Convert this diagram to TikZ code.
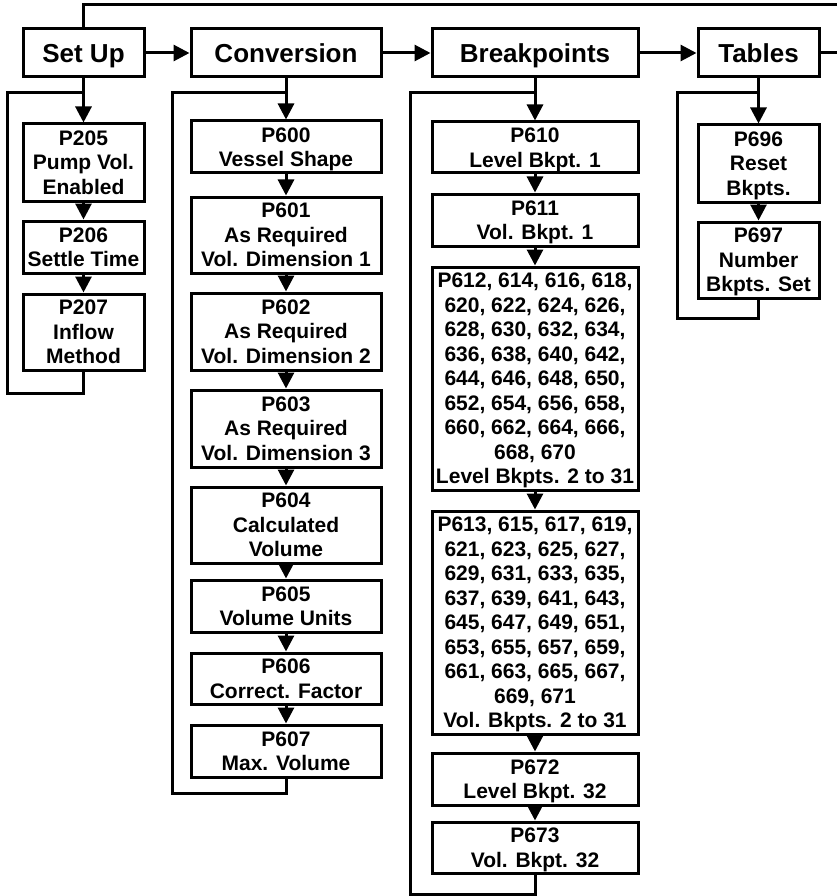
\documentclass[tikz,border=0pt]{standalone}
\usepackage{fontspec}
\setmainfont{Liberation Sans}
\usetikzlibrary{arrows.meta}
\begin{document}
\begin{tikzpicture}[x=1pt,y=-1pt,
  conn/.style={line width=3pt},
  arr/.style={conn, -{Triangle[length=16pt,width=16pt]}},
  hbox/.style={draw, line width=3pt, inner sep=0pt, align=center, minimum height=48pt,
    text height=19pt, text depth=0pt,
    font=\fontsize{26}{30}\selectfont\bfseries},
  pbox/.style={draw, line width=3pt, inner sep=0pt, align=center, text depth=0pt,
    font=\fontsize{21}{24.5}\selectfont\bfseries},
  colA/.style={pbox, minimum width=121pt},
  colB/.style={pbox, minimum width=190pt},
  colC/.style={pbox, minimum width=206pt},
  colD/.style={pbox, minimum width=121pt}]
\useasboundingbox (0,0) rectangle (837,896);

% headers
\node[hbox, minimum width=121pt] (setup) at (83.5,53) {Set Up};
\node[hbox, minimum width=190pt] (conv) at (286,53) {Conversion};
\node[hbox, minimum width=206pt] (bkpt) at (535,53) {Breakpoints};
\node[hbox, minimum width=121pt] (tables) at (758.5,53) {Tables};

\coordinate (topR) at (837,5);
\coordinate (rightE) at (837,53);
\draw[conn] (setup.north) |- (topR);
\draw[arr] (setup) -- (conv);
\draw[arr] (conv) -- (bkpt);
\draw[arr] (bkpt) -- (tables);
\draw[conn] (tables.east) -- (rightE);

% column 1
\node[colA, minimum height=77pt] (p205) at (83.5,162.5) {P205\\Pump Vol.\\Enabled};
\node[colA, minimum height=52pt] (p206) at (83.5,247) {P206\\Settle Time};
\node[colA, minimum height=76pt] (p207) at (83.5,332) {P207\\Inflow\\Method};
\draw[arr] (setup) -- (p205);
\draw[arr] (p205) -- (p206);
\draw[arr] (p206) -- (p207);
\coordinate (a1) at (7,393);
\coordinate (a2) at (83.5,93);
\draw[conn] (p207.south) |- (a1) |- (a2);

% column 2
\node[colB, minimum height=52pt] (p600) at (286,147) {P600\\Vessel Shape};
\node[colB, minimum height=76pt] (p601) at (286,235) {P601\\As Required\\Vol. Dimension 1};
\node[colB, minimum height=77pt] (p602) at (286,331.5) {P602\\As Required\\Vol. Dimension 2};
\node[colB, minimum height=77pt] (p603) at (286,428.5) {P603\\As Required\\Vol. Dimension 3};
\node[colB, minimum height=76pt] (p604) at (286,525) {P604\\Calculated\\Volume};
\node[colB, minimum height=52pt] (p605) at (286,606) {P605\\Volume Units};
\node[colB, minimum height=51pt] (p606) at (286,678.5) {P606\\Correct. Factor};
\node[colB, minimum height=52pt] (p607) at (286,751) {P607\\Max. Volume};
\draw[arr] (conv) -- (p600);
\draw[arr] (p600) -- (p601);
\draw[arr] (p601) -- (p602);
\draw[arr] (p602) -- (p603);
\draw[arr] (p603) -- (p604);
\draw[arr] (p604) -- (p605);
\draw[arr] (p605) -- (p606);
\draw[arr] (p606) -- (p607);
\coordinate (b1) at (172,793);
\coordinate (b2) at (286,93);
\draw[conn] (p607.south) |- (b1) |- (b2);

% column 3
\node[colC, minimum height=51pt] (p610) at (535,147.5) {P610\\Level Bkpt. 1};
\node[colC, minimum height=52pt] (p611) at (535,220) {P611\\Vol. Bkpt. 1};
\node[colC, minimum height=223pt] (p612) at (535,378.5) {P612, 614, 616, 618,\\620, 622, 624, 626,\\628, 630, 632, 634,\\636, 638, 640, 642,\\644, 646, 648, 650,\\652, 654, 656, 658,\\660, 662, 664, 666,\\668, 670\\Level Bkpts. 2 to 31};
\node[colC, minimum height=223pt] (p613) at (535,622.5) {P613, 615, 617, 619,\\621, 623, 625, 627,\\629, 631, 633, 635,\\637, 639, 641, 643,\\645, 647, 649, 651,\\653, 655, 657, 659,\\661, 663, 665, 667,\\669, 671\\Vol. Bkpts. 2 to 31};
\node[colC, minimum height=52pt] (p672) at (535,779) {P672\\Level Bkpt. 32};
\node[colC, minimum height=51pt] (p673) at (535,847.5) {P673\\Vol. Bkpt. 32};
\draw[arr] (bkpt) -- (p610);
\draw[arr] (p610) -- (p611);
\draw[arr] (p611) -- (p612);
\draw[arr] (p612) -- (p613);
\draw[arr] (p613) -- (p672);
\draw[arr] (p672) -- (p673);
\coordinate (c1) at (410,894);
\coordinate (c2) at (535,93);
\draw[conn] (p673.south) |- (c1) |- (c2);

% column 4
\node[colD, minimum height=77pt] (p696) at (758.5,163.5) {P696\\Reset\\Bkpts.};
\node[colD, minimum height=76pt] (p697) at (758.5,260) {P697\\Number\\Bkpts. Set};
\draw[arr] (tables) -- (p696);
\draw[arr] (p696) -- (p697);
\coordinate (d1) at (677,318);
\coordinate (d2) at (758.5,93);
\draw[conn] (p697.south) |- (d1) |- (d2);
\end{tikzpicture}
\end{document}
